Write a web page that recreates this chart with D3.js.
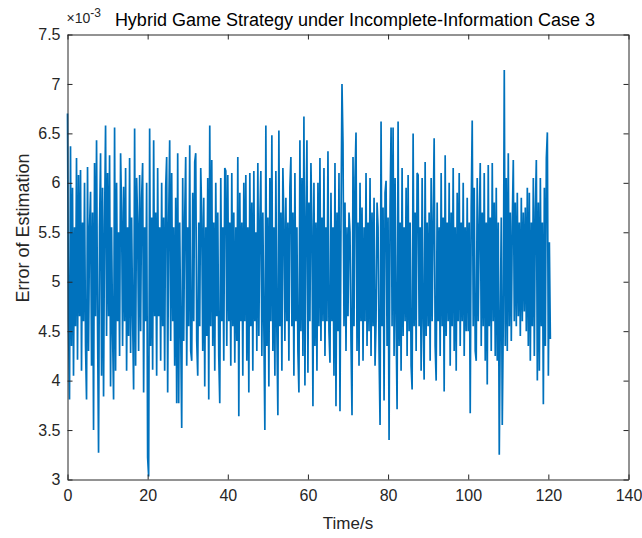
<!DOCTYPE html>
<html>
<head>
<meta charset="utf-8">
<script src="https://cdn.jsdelivr.net/npm/d3@7"></script>
<style>
  html, body { margin: 0; padding: 0; background: #fff; }
  svg { display: block; font-family: "Liberation Sans", Arial, Helvetica, sans-serif; }
</style>
</head>
<body>
<svg id="chart" width="642" height="538"></svg>
<script>
// Sampling step of the estimation-error record (seconds)
const timeStep = 0.25;

// Estimation error (units of 1e-3), one row per 5 s
const errorValues = [
  6.70, 4.60, 3.81, 6.37, 4.35, 5.95, 4.05, 5.55, 4.55, 6.25, 4.21, 6.08, 4.65, 6.13, 4.10, 5.60, 4.60, 6.00, 4.35, 3.81,
  6.16, 4.30, 5.55, 5.91, 4.15, 5.70, 3.50, 6.20, 4.65, 6.43, 4.55, 3.27, 5.55, 6.30, 4.05, 5.95, 3.84, 5.60, 6.58, 4.45,
  6.10, 4.65, 6.28, 3.94, 5.55, 4.50, 3.81, 6.56, 4.10, 6.00, 4.60, 5.50, 4.25, 6.30, 5.70, 4.35, 5.96, 4.60, 6.15, 4.10,
  5.55, 4.45, 6.25, 4.28, 5.65, 4.65, 3.91, 6.55, 4.15, 6.05, 5.60, 4.30, 6.08, 4.50, 5.85, 6.20, 3.88, 5.55, 4.60, 6.00,
  3.22, 3.03, 6.55, 4.35, 5.65, 4.11, 6.43, 4.65, 5.70, 4.05, 6.15, 4.65, 5.55, 4.20, 6.00, 4.55, 5.65, 4.10, 5.95, 6.26,
  3.88, 5.60, 6.43, 4.40, 6.10, 4.60, 5.55, 4.15, 5.85, 3.77, 6.30, 3.77, 5.60, 4.50, 3.52, 6.05, 4.40, 5.65, 6.26, 4.15,
  5.55, 4.55, 6.38, 4.30, 4.20, 5.90, 4.60, 6.21, 6.30, 4.40, 4.05, 5.60, 4.55, 6.15, 5.65, 4.30, 5.85, 3.94, 5.55, 4.45,
  6.05, 3.81, 6.58, 4.55, 6.23, 4.35, 5.60, 4.10, 6.00, 4.65, 5.70, 4.25, 3.77, 6.05, 4.60, 5.55, 4.20, 6.15, 6.12, 4.35,
  6.08, 4.60, 5.60, 4.15, 6.10, 4.55, 5.70, 4.18, 5.55, 4.40, 6.26, 3.64, 5.90, 4.60, 5.60, 4.05, 6.00, 4.60, 6.08, 4.20,
  5.55, 3.88, 6.10, 4.55, 5.80, 4.10, 6.12, 4.60, 5.50, 4.30, 6.20, 4.45, 5.60, 6.12, 4.25, 5.70, 4.55, 3.50, 6.58, 4.35,
  5.65, 3.94, 6.05, 4.60, 6.48, 4.30, 5.55, 4.05, 6.12, 4.50, 3.65, 6.53, 4.55, 5.70, 4.10, 6.15, 5.60, 4.40, 5.85, 4.60,
  5.60, 4.20, 5.95, 6.26, 4.55, 5.70, 4.05, 6.10, 4.60, 5.55, 4.30, 3.88, 6.43, 4.50, 6.05, 4.25, 6.67, 3.95, 5.60, 6.43,
  4.08, 5.80, 4.60, 6.20, 5.55, 3.74, 6.00, 4.35, 5.60, 4.10, 6.00, 4.55, 6.25, 4.40, 5.65, 4.60, 6.15, 4.25, 5.55, 4.60,
  6.32, 4.50, 4.18, 5.90, 4.60, 5.55, 4.05, 6.20, 3.74, 5.70, 4.50, 6.10, 3.69, 5.60, 7.00, 6.40, 4.55, 5.80, 4.30, 5.55,
  4.65, 5.70, 5.50, 4.40, 3.65, 6.26, 4.55, 6.05, 6.51, 4.30, 5.60, 4.15, 6.00, 4.60, 5.75, 4.20, 5.55, 4.60, 6.10, 4.35,
  5.60, 4.50, 6.05, 4.25, 5.70, 4.55, 5.85, 4.15, 4.60, 5.80, 5.55, 4.30, 3.55, 6.62, 4.55, 5.75, 3.80, 5.90, 6.02, 4.35,
  5.65, 3.40, 5.75, 6.56, 4.55, 6.56, 4.25, 6.05, 4.60, 3.71, 6.62, 4.35, 5.60, 4.10, 6.15, 4.45, 5.55, 4.60, 5.95, 4.25,
  6.08, 4.50, 5.60, 4.15, 3.91, 6.50, 4.55, 5.70, 4.30, 6.10, 6.08, 4.55, 5.55, 4.10, 6.05, 4.60, 4.01, 6.21, 4.45, 5.60,
  4.55, 5.70, 4.20, 6.05, 4.60, 5.60, 6.45, 4.35, 4.00, 5.80, 4.60, 5.55, 4.25, 6.10, 4.55, 5.65, 3.89, 6.28, 4.45, 5.60,
  4.60, 6.00, 4.15, 5.70, 4.55, 6.15, 4.30, 5.55, 4.10, 5.90, 4.60, 6.10, 4.35, 5.60, 4.60, 6.00, 4.25, 5.55, 4.50, 5.85,
  4.50, 5.60, 3.67, 5.75, 6.63, 4.55, 5.95, 4.30, 4.20, 6.05, 4.60, 5.55, 6.20, 4.35, 5.70, 4.55, 6.10, 4.20, 5.60, 3.96,
  6.18, 4.55, 5.65, 4.30, 6.20, 4.60, 5.80, 4.25, 5.95, 4.20, 5.60, 3.25, 4.60, 5.65, 3.55, 4.60, 7.14, 4.35, 6.05, 4.30,
  6.30, 4.55, 5.70, 4.40, 5.60, 6.23, 4.60, 5.80, 4.55, 5.90, 4.65, 5.60, 4.45, 5.85, 4.60, 5.70, 4.70, 5.75, 4.50, 5.95,
  4.35, 5.90, 4.20, 5.60, 4.55, 6.05, 4.25, 5.70, 6.23, 4.00, 5.80, 4.10, 6.05, 4.55, 5.60, 3.76, 5.95, 4.35, 6.25, 6.51,
  4.05, 5.40, 4.42
];

// Axis ticks
const xTicks = [0, 20, 40, 60, 80, 100, 120, 140];
const yTicks = [3, 3.5, 4, 4.5, 5, 5.5, 6, 6.5, 7, 7.5];

const titleText = "Hybrid Game Strategy under Incomplete-Information Case 3";
const xLabelText = "Time/s";
const yLabelText = "Error of Estimation";

const data = errorValues.map((v, i) => ({ t: i * timeStep, v }));

const svg = d3.select("#chart");
const m = { left: 67.5, right: 628.5, top: 34.5, bottom: 479.5 };
const axisColor = "#262626";

const x = d3.scaleLinear().domain([0, 140]).range([m.left, m.right]);
const y = d3.scaleLinear().domain([3, 7.5]).range([m.bottom, m.top]);

// Data line
const line = d3.line().x(d => x(d.t)).y(d => y(d.v));
svg.append("path")
  .datum(data)
  .attr("fill", "none")
  .attr("stroke", "#0072BD")
  .attr("stroke-width", 1.7)
  .attr("stroke-linejoin", "miter")
  .attr("d", line);

// Axes: ticks pointing inward, with mirrored ticks on top and right
const tickLen = 5;
const fmt = d3.format("");

const bottomAxis = d3.axisBottom(x).tickValues(xTicks).tickFormat(fmt).tickSizeInner(-tickLen).tickSizeOuter(0).tickPadding(10);
const leftAxis = d3.axisLeft(y).tickValues(yTicks).tickFormat(fmt).tickSizeInner(-tickLen).tickSizeOuter(0).tickPadding(7);
const topAxis = d3.axisTop(x).tickValues(xTicks).tickFormat("").tickSizeInner(-tickLen).tickSizeOuter(0);
const rightAxis = d3.axisRight(y).tickValues(yTicks).tickFormat("").tickSizeInner(-tickLen).tickSizeOuter(0);

function styleAxis(g) {
  g.selectAll("path.domain").attr("stroke", axisColor).attr("stroke-width", 1);
  g.selectAll("line").attr("stroke", axisColor).attr("stroke-width", 1);
  g.selectAll("text").attr("fill", axisColor).style("font-size", "16px")
    .style("font-family", "'Liberation Sans', Arial, Helvetica, sans-serif");
}

svg.append("g").attr("transform", `translate(0,${m.bottom})`).call(bottomAxis).call(styleAxis);
svg.append("g").attr("transform", `translate(${m.left},0)`).call(leftAxis).call(styleAxis);
svg.append("g").attr("transform", `translate(0,${m.top})`).call(topAxis).call(styleAxis);
svg.append("g").attr("transform", `translate(${m.right},0)`).call(rightAxis).call(styleAxis);

// Exponent marker for the y axis
const expo = svg.append("text")
  .attr("x", m.left - 1)
  .attr("y", 23)
  .attr("fill", axisColor)
  .style("font-size", "14px");
expo.append("tspan").text("\u00d710");
expo.append("tspan").attr("dy", -6).style("font-size", "12px").text("-3");

// Title
svg.append("text")
  .attr("x", 355)
  .attr("y", 26)
  .attr("text-anchor", "middle")
  .attr("fill", "#000")
  .style("font-size", "18px")
  .text(titleText);

// Axis labels
svg.append("text")
  .attr("x", (m.left + m.right) / 2)
  .attr("y", 529)
  .attr("text-anchor", "middle")
  .attr("fill", axisColor)
  .style("font-size", "17px")
  .text(xLabelText);

svg.append("text")
  .attr("transform", `translate(29,${(m.top + m.bottom) / 2 - 29}) rotate(-90)`)
  .attr("text-anchor", "middle")
  .attr("fill", axisColor)
  .style("font-size", "18px")
  .text(yLabelText);
</script>
</body>
</html>
